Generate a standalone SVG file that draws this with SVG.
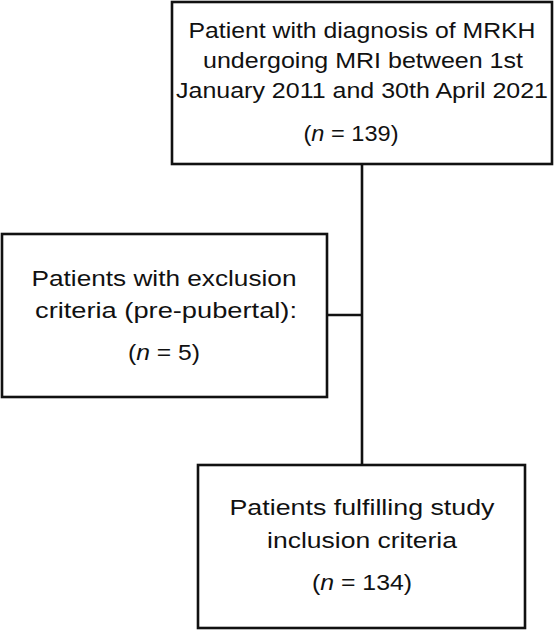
<svg xmlns="http://www.w3.org/2000/svg" width="556" height="631" viewBox="0 0 556 631">
  <style>
    .box { fill: #ffffff; stroke: #111111; stroke-width: 2.6; }
    .conn { fill: none; stroke: #111111; stroke-width: 2.6; }
    text { font-family: "Liberation Sans", Arial, sans-serif; font-size: 22px; fill: #111111; text-anchor: middle; }
    .it { font-style: italic; }
  </style>
  <rect width="556" height="631" fill="#ffffff"/>
  <g id="connectors">
    <line class="conn" x1="362" y1="164" x2="362" y2="465"/>
    <line class="conn" x1="327" y1="315" x2="362" y2="315"/>
  </g>
  <g id="node-total">
    <rect class="box" x="172" y="2" width="380" height="162"/>
    <text x="362" y="38" textLength="347" lengthAdjust="spacingAndGlyphs">Patient with diagnosis of MRKH</text>
    <text x="363" y="68" textLength="320" lengthAdjust="spacingAndGlyphs">undergoing MRI between 1st</text>
    <text x="362" y="98" textLength="372" lengthAdjust="spacingAndGlyphs">January 2011 and 30th April 2021</text>
    <text x="351" y="141" textLength="95" lengthAdjust="spacingAndGlyphs">(<tspan class="it">n</tspan> = 139)</text>
  </g>
  <g id="node-excluded">
    <rect class="box" x="2" y="234" width="325" height="163"/>
    <text x="164" y="286" textLength="265" lengthAdjust="spacingAndGlyphs">Patients with exclusion</text>
    <text x="166" y="318" textLength="262" lengthAdjust="spacingAndGlyphs">criteria (pre-pubertal):</text>
    <text x="164" y="360" textLength="72" lengthAdjust="spacingAndGlyphs">(<tspan class="it">n</tspan> = 5)</text>
  </g>
  <g id="node-included">
    <rect class="box" x="198" y="465" width="327" height="163"/>
    <text x="362" y="515" textLength="265" lengthAdjust="spacingAndGlyphs">Patients fulfilling study</text>
    <text x="362" y="548" textLength="190" lengthAdjust="spacingAndGlyphs">inclusion criteria</text>
    <text x="362" y="590" textLength="100" lengthAdjust="spacingAndGlyphs">(<tspan class="it">n</tspan> = 134)</text>
  </g>
</svg>
